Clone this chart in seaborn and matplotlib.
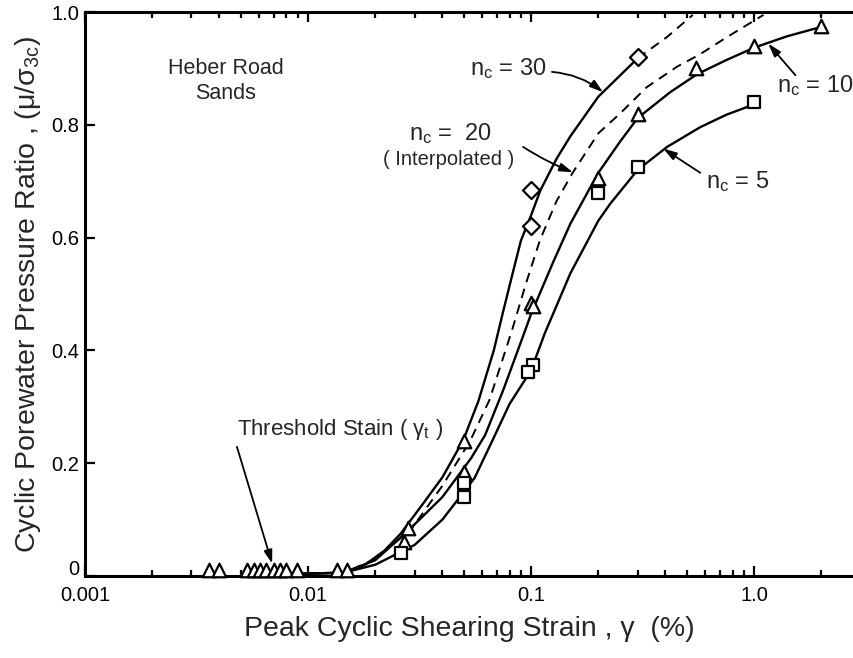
import numpy as np
import pandas as pd
import matplotlib
matplotlib.use("Agg")
import matplotlib.pyplot as plt
import matplotlib.transforms as mtransforms
import seaborn as sns
from matplotlib.ticker import FixedLocator, FixedFormatter, LogLocator, NullFormatter

# ---------------- data ----------------
nc30_x = [0.0095, 0.0145, 0.018, 0.022, 0.026, 0.033, 0.04, 0.0495, 0.058, 0.068,
          0.075, 0.083, 0.09, 0.1, 0.11, 0.13, 0.15, 0.2, 0.3]
nc30_y = [0.004, 0.006, 0.02, 0.045, 0.075, 0.13, 0.175, 0.24, 0.31, 0.40,
          0.47, 0.54, 0.595, 0.64, 0.684, 0.74, 0.78, 0.85, 0.918]
nc30_ext_x = [0.3, 0.407, 0.53]
nc30_ext_y = [0.918, 0.956, 0.995]

nc20_x = [0.0095, 0.0145, 0.02, 0.029, 0.04, 0.0532, 0.065, 0.0821, 0.095, 0.1096,
          0.13, 0.154, 0.2, 0.25, 0.33, 0.45, 0.57, 0.75, 1.1]
nc20_y = [0.004, 0.006, 0.03, 0.083, 0.16, 0.239, 0.312, 0.436, 0.52, 0.596,
          0.665, 0.716, 0.785, 0.82, 0.867, 0.903, 0.925, 0.955, 0.995]

nc10_x = [0.0095, 0.0145, 0.02, 0.0277, 0.04, 0.0538, 0.0622, 0.075, 0.0941, 0.1,
          0.125, 0.15, 0.2, 0.25, 0.3, 0.42, 0.555, 0.75, 1.0, 1.4, 2.05]
nc10_y = [0.004, 0.006, 0.028, 0.078, 0.14, 0.209, 0.25, 0.33, 0.436, 0.465,
          0.555, 0.625, 0.715, 0.77, 0.812, 0.858, 0.89, 0.915, 0.937, 0.957, 0.975]

nc5_x = [0.0095, 0.0145, 0.02, 0.03, 0.04, 0.0558, 0.067, 0.08, 0.1, 0.115,
         0.15, 0.2, 0.226, 0.3, 0.407, 0.573, 0.75, 1.04]
nc5_y = [0.004, 0.006, 0.02, 0.055, 0.10, 0.174, 0.24, 0.305, 0.365, 0.43,
         0.537, 0.63, 0.66, 0.72, 0.761, 0.796, 0.818, 0.839]

diamond_x = [0.1, 0.1, 0.3]
diamond_y = [0.685, 0.62, 0.92]

triangle_x = [2.0, 1.0, 0.55, 0.3, 0.2, 0.1, 0.102, 0.05, 0.05, 0.028, 0.027,
              0.0036, 0.0040, 0.0053, 0.0057, 0.0061, 0.0065, 0.0070, 0.0075,
              0.0080, 0.0089, 0.0135, 0.0149]
triangle_y = [0.975, 0.94, 0.90, 0.82, 0.705, 0.485, 0.478, 0.24, 0.185, 0.085, 0.06,
              0.011, 0.011, 0.011, 0.011, 0.011, 0.011, 0.011, 0.011,
              0.011, 0.011, 0.011, 0.011]

square_x = [1.0, 0.3, 0.2, 0.102, 0.097, 0.05, 0.05, 0.026]
square_y = [0.84, 0.725, 0.68, 0.375, 0.362, 0.165, 0.14, 0.04]

xtick_vals = [0.001, 0.01, 0.1, 1.0]
xtick_labels = ["0.001", "0.01", "0.1", "1.0"]
ytick_vals = [0, 0.2, 0.4, 0.6, 0.8, 1.0]
ytick_labels = ["0", "0.2", "0.4", "0.6", "0.8", "1.0"]

# ---------------- style ----------------
sns.set_style("ticks")
plt.rcParams['font.family'] = ['Liberation Sans', 'DejaVu Sans']
plt.rcParams['mathtext.fontset'] = 'custom'
plt.rcParams['mathtext.rm'] = 'Liberation Sans'
plt.rcParams['mathtext.it'] = 'Liberation Sans'

fig = plt.figure(figsize=(8.54, 6.58), dpi=100)
ax = fig.add_axes([0.0995, 0.1246, 0.9005, 0.857])

lw = 1.7
for xs, ys in [(nc30_x, nc30_y), (nc10_x, nc10_y), (nc5_x, nc5_y)]:
    sns.lineplot(x=xs, y=ys, ax=ax, color='black', lw=lw, sort=False,
                 estimator=None, legend=False)
for xs, ys in [(nc30_ext_x, nc30_ext_y), (nc20_x, nc20_y)]:
    sns.lineplot(x=xs, y=ys, ax=ax, color='black', lw=1.4, sort=False,
                 estimator=None, legend=False, linestyle=(0, (5, 3.5)))

mk = dict(ax=ax, color='white', edgecolor='black', linewidth=1.6,
          legend=False, zorder=5, clip_on=False)
sns.scatterplot(x=triangle_x, y=triangle_y, marker='^', s=95, **mk)
sns.scatterplot(x=square_x, y=square_y, marker='s', s=85, **mk)
sns.scatterplot(x=diamond_x, y=diamond_y, marker='D', s=75, **mk)

ax.set_xscale('log')
ax.set_xlim(0.001, 2.8)
ax.set_ylim(0, 1.0)

ax.xaxis.set_major_locator(FixedLocator(xtick_vals))
ax.xaxis.set_major_formatter(FixedFormatter(xtick_labels))
ax.xaxis.set_minor_locator(LogLocator(base=10, subs=np.arange(2, 10), numticks=20))
ax.xaxis.set_minor_formatter(NullFormatter())
ax.yaxis.set_major_locator(FixedLocator(ytick_vals))
ax.yaxis.set_major_formatter(FixedFormatter(ytick_labels))

ax.tick_params(axis='both', which='both', direction='in', top=True, right=False,
               colors='black', width=1.6, labelsize=14.5)
ax.tick_params(axis='both', which='major', length=7)
ax.tick_params(axis='x', which='minor', length=4)
ax.tick_params(axis='x', which='major', pad=7)
ax.tick_params(axis='y', which='major', pad=4)
for side in ['left', 'bottom', 'top']:
    ax.spines[side].set_linewidth(2.2)
    ax.spines[side].set_color('black')
ax.spines['right'].set_visible(False)

# lift the "0" label on the y axis slightly, as in the reference
fig.canvas.draw()
lift = mtransforms.ScaledTranslation(0, 6 / 72, fig.dpi_scale_trans)
ylabels = ax.get_yticklabels()
ylabels[0].set_transform(ylabels[0].get_transform() + lift)

ax.set_xlabel("Peak Cyclic Shearing Strain , γ  (%)", fontsize=20.5, labelpad=8)
ax.set_ylabel(r"Cyclic Porewater Pressure Ratio , (μ/σ$_{\mathregular{3c}}$)",
              fontsize=20.5, labelpad=6)

# ---------------- annotations ----------------
ax.text(0.00428, 0.90, "Heber Road", ha='center', va='center', fontsize=15.5)
ax.text(0.00428, 0.855, "Sands", ha='center', va='center', fontsize=15.5)

arrow = dict(arrowstyle='-|>,head_length=0.8,head_width=0.25', color='black', lw=1.3,
             shrinkA=0, shrinkB=0)

def pointer(tail, head, rad=0.0):
    ax.annotate("", xy=head, xytext=tail,
                arrowprops=dict(connectionstyle=f'arc3,rad={rad}', **arrow))

ax.text(0.079, 0.90, r"$\mathregular{n_c}$ = 30", ha='center', va='center', fontsize=17)
pointer((0.124, 0.894), (0.21, 0.858), rad=-0.15)

ax.text(0.0434, 0.785, r"$\mathregular{n_c}$ =  20", ha='center', va='center', fontsize=17)
ax.text(0.0427, 0.738, "( Interpolated )", ha='center', va='center', fontsize=14.5)
pointer((0.092, 0.761), (0.154, 0.716), rad=0.05)

ax.text(1.27, 0.87, r"$\mathregular{n_c}$ = 10", ha='left', va='center', fontsize=17)
pointer((1.53, 0.888), (1.156, 0.944), rad=0.0)

ax.text(0.847, 0.70, r"$\mathregular{n_c}$ = 5", ha='center', va='center', fontsize=17)
pointer((0.573, 0.715), (0.391, 0.758), rad=0.0)

ax.text(0.0048, 0.259, r"Threshold Stain ( γ$_{\mathregular{t}}$ )", ha='left',
        va='center', fontsize=16)
pointer((0.0048, 0.229), (0.0069, 0.022), rad=0.0)

fig.savefig("out.png", dpi=100)
